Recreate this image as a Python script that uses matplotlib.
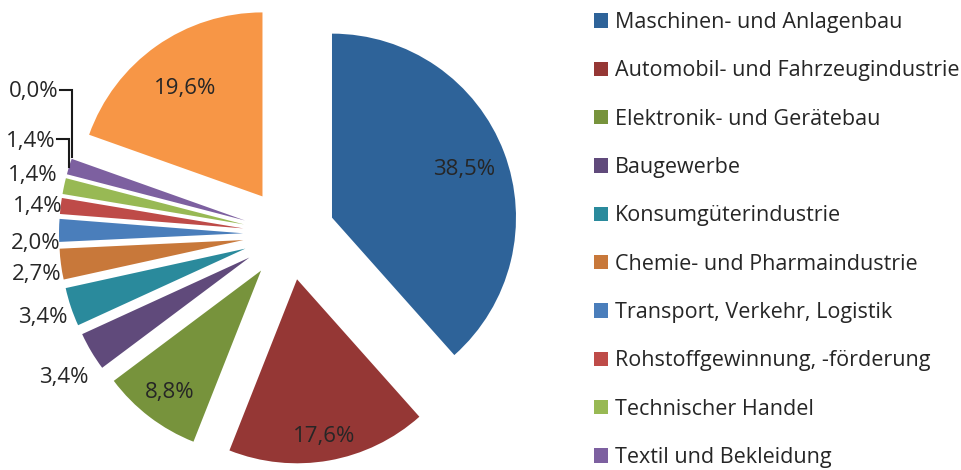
import numpy as np
import matplotlib
matplotlib.use("Agg")
import matplotlib.pyplot as plt

plt.rcParams['font.family'] = ['Open Sans', 'DejaVu Sans']

# data
branchen = [
    "Maschinen- und Anlagenbau",
    "Automobil- und Fahrzeugindustrie",
    "Elektronik- und Gerätebau",
    "Baugewerbe",
    "Konsumgüterindustrie",
    "Chemie- und Pharmaindustrie",
    "Transport, Verkehr, Logistik",
    "Rohstoffgewinnung, -förderung",
    "Technischer Handel",
    "Textil und Bekleidung",
    "",
    "",
]
anteile = [38.5, 17.6, 8.8, 3.4, 3.4, 2.7, 2.0, 1.4, 1.4, 1.4, 0.0, 19.6]
farben = ["#2E6399", "#953735", "#77933C", "#604A7B", "#2A8A9C", "#C8783A",
          "#4A7EBB", "#BE4B48", "#98B954", "#7D60A0", "#4BACC6", "#F79646"]
n_legende = 10

W, H = 961, 470
cx, cy, R = 289, 236, 184   # pie centre (px from left / bottom) and radius

fig = plt.figure(figsize=(W / 100, H / 100), dpi=100)
ax = fig.add_axes([0, 0, 1, 1])

wedges, _ = ax.pie(anteile, colors=farben, startangle=90, counterclock=False,
                   explode=[0.25] * len(anteile), radius=1,
                   wedgeprops=dict(linewidth=0))
ax.set_xlim(-cx / R, (W - cx) / R)
ax.set_ylim(-cy / R, (H - cy) / R)
ax.axis("off")

txt = "#262626"
fs = 16
fs_leg = 15.5

# inside labels: distance from the wedge tip
innen = {0: 0.77, 1: 0.855, 2: 0.82, 11: 0.73}
# outside labels: (angle, radius) around the pie centre
aussen = {3: (212.1, 1.443), 4: (198.4, 1.409), 5: (188.6, 1.385),
          6: (181.6, 1.375), 7: (173.4, 1.373), 8: (166.8, 1.429)}
# labels that need a leader line: (angle, radius)
versetzt = {9: (159.6, 1.48), 10: (150.5, 1.59)}
dy = -2 / R

for i, (w, v) in enumerate(zip(wedges, anteile)):
    mid = np.deg2rad((w.theta1 + w.theta2) / 2)
    lab = f"{v:.1f}%".replace(".", ",")
    if i in innen:
        d = innen[i]
        x = w.center[0] + d * np.cos(mid)
        y = w.center[1] + d * np.sin(mid)
        ax.text(x, y + dy, lab, ha="center", va="center", fontsize=fs, color=txt)
    elif i in versetzt:
        a, r = versetzt[i]
        # point on the outer edge of the wedge
        tx = w.center[0] + np.cos(mid)
        ty = w.center[1] + np.sin(mid)
        ly = r * np.sin(np.deg2rad(a))
        lx = tx - 0.075
        ax.text(lx, ly + dy, lab, ha="right", va="center", fontsize=fs, color=txt)
        ax.plot([lx + 0.01, tx, tx], [ly, ly, ty], color="#1a1a1a", lw=1.5,
                solid_joinstyle="miter")
    else:
        a, r = aussen[i]
        x = r * np.cos(np.deg2rad(a))
        y = r * np.sin(np.deg2rad(a))
        ax.text(x, y + dy, lab, ha="center", va="center", fontsize=fs, color=txt)

leg = fig.legend(wedges[:n_legende], branchen[:n_legende],
                 loc="upper left", bbox_to_anchor=(594 / W, 1 - 12 / H),
                 frameon=False, fontsize=fs_leg, labelcolor=txt,
                 handlelength=0.65, handleheight=0.65, handletextpad=0.33,
                 labelspacing=1.27, borderaxespad=0, borderpad=0)

fig.savefig("out.png", dpi=100)
